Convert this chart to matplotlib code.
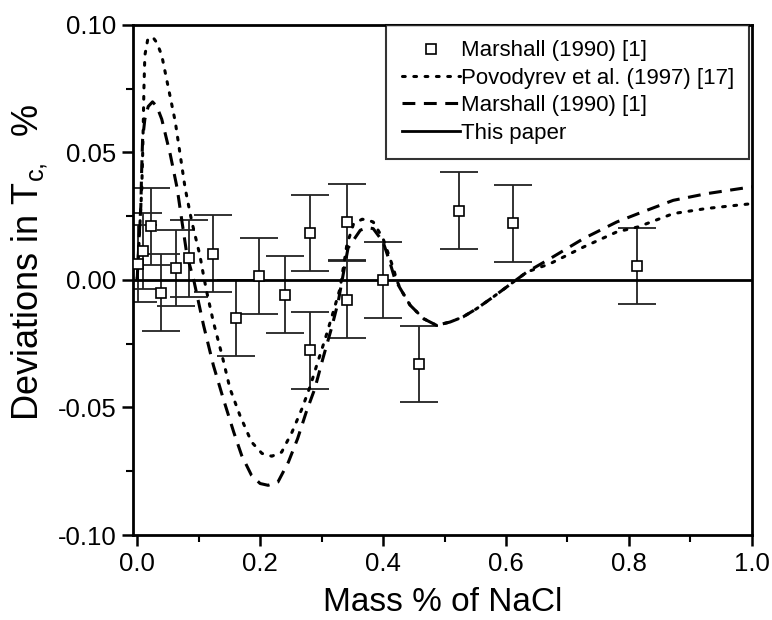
import matplotlib
matplotlib.use("Agg")
import matplotlib.pyplot as plt
from matplotlib.ticker import MultipleLocator, FormatStrFormatter

plt.rcParams['font.family'] = ['Liberation Sans', 'DejaVu Sans']
plt.rcParams['mathtext.default'] = 'regular'

# Marshall (1990) data points, error +-0.015
marsh_x = [0.002, 0.010, 0.023, 0.038, 0.063, 0.085, 0.124, 0.161, 0.198, 0.240,
           0.281, 0.281, 0.341, 0.341, 0.400, 0.459, 0.523, 0.611, 0.813]
marsh_y = [0.0064, 0.0114, 0.021, -0.005, 0.0046, 0.0085, 0.0103, -0.0149, 0.0016, -0.0058,
           0.0184, -0.0276, 0.0227, -0.0077, 0.0, -0.033, 0.0272, 0.0222, 0.0054]
marsh_err = [0.015] * len(marsh_x)

# Povodyrev et al. (1997) curve
pov_x = [0.0, 0.002, 0.0047, 0.0075, 0.0089, 0.010, 0.011, 0.0125, 0.017, 0.025,
         0.032, 0.040, 0.051, 0.062, 0.070, 0.078, 0.089, 0.102, 0.107, 0.113,
         0.124, 0.138, 0.151, 0.167, 0.186, 0.203, 0.219, 0.235, 0.252, 0.268,
         0.282, 0.292, 0.306, 0.319, 0.330, 0.336, 0.341, 0.352, 0.366, 0.376,
         0.384, 0.400, 0.417, 0.422, 0.428, 0.444, 0.466, 0.487, 0.509, 0.530,
         0.552, 0.579, 0.612, 0.634, 0.672, 0.726, 0.780, 0.815, 0.872, 0.926, 1.0]
pov_y = [0.0, 0.0098, 0.0227, 0.036, 0.049, 0.062, 0.075, 0.088, 0.094, 0.0953,
         0.093, 0.088, 0.075, 0.062, 0.049, 0.036, 0.0227, 0.0097, 0.003, -0.0045,
         -0.0165, -0.0295, -0.0426, -0.053, -0.0635, -0.068, -0.0691, -0.0675, -0.0596, -0.0505,
         -0.0413, -0.0335, -0.023, -0.0125, -0.0034, 0.0058, 0.0136, 0.022, 0.0238, 0.0234,
         0.0227, 0.0162, 0.0044, 0.0, -0.0034, -0.0099, -0.0152, -0.0178, -0.0165, -0.0145,
         -0.0113, -0.0067, -0.0008, 0.0031, 0.0064, 0.0129, 0.0188, 0.0208, 0.026, 0.028, 0.0299]

# Marshall (1990) curve
mc_x = [0.0, 0.003, 0.006, 0.0072, 0.0088, 0.0125, 0.018, 0.025, 0.032, 0.040,
        0.054, 0.065, 0.073, 0.081, 0.092, 0.108, 0.124, 0.140, 0.157, 0.170,
        0.186, 0.200, 0.213, 0.229, 0.246, 0.261, 0.275, 0.289, 0.302, 0.316,
        0.327, 0.335, 0.343, 0.363, 0.375, 0.384, 0.400, 0.411, 0.419, 0.428,
        0.444, 0.466, 0.487, 0.509, 0.530, 0.552, 0.579, 0.612, 0.634, 0.672,
        0.726, 0.780, 0.815, 0.872, 0.926, 1.0]
mc_y = [0.0, 0.016, 0.029, 0.042, 0.055, 0.063, 0.068, 0.0698, 0.068, 0.063,
        0.049, 0.036, 0.0227, 0.0097, 0.0, -0.0178, -0.0335, -0.0465, -0.0596, -0.0688,
        -0.0766, -0.0798, -0.0805, -0.0792, -0.0714, -0.0622, -0.0518, -0.0426, -0.0309, -0.019,
        -0.0086, 0.002, 0.0125, 0.0195, 0.0205, 0.0201, 0.0149, 0.007, 0.0005, -0.0034,
        -0.0099, -0.0152, -0.0178, -0.0165, -0.0145, -0.0113, -0.0067, -0.0008, 0.0031, 0.0084,
        0.0162, 0.0227, 0.026, 0.0312, 0.0338, 0.0365]

# This paper (zero deviation)
paper_x = [-0.01, 1.0]
paper_y = [0.0, 0.0]

fig = plt.figure(figsize=(7.72, 6.2), dpi=100)
ax = fig.add_axes([0.1725, 0.137, 0.8015, 0.823])

ax.errorbar(marsh_x, marsh_y, yerr=marsh_err, fmt='none', ecolor='#222222',
            elinewidth=1.3, capsize=13.5, capthick=1.3, zorder=2)
h_pts, = ax.plot(marsh_x, marsh_y, 's', ms=6.5, mfc='white', mec='black', mew=1.2,
                 zorder=4, label='Marshall (1990) [1]')
h_pov, = ax.plot(pov_x, pov_y, color='black', lw=2.2, dashes=(0.9, 2.8),
                 dash_capstyle='round', zorder=3, label='Povodyrev et al. (1997) [17]')
h_mc, = ax.plot(mc_x, mc_y, color='black', lw=2.2, dashes=(4.2, 2.8),
                zorder=3, label='Marshall (1990) [1]')
h_pap, = ax.plot(paper_x, paper_y, color='black', lw=2.0, zorder=3, label='This paper')

ax.set_xlim(-0.0065, 1.0)
ax.set_ylim(-0.1, 0.1)
ax.xaxis.set_major_locator(MultipleLocator(0.2))
ax.xaxis.set_minor_locator(MultipleLocator(0.1))
ax.yaxis.set_major_locator(MultipleLocator(0.05))
ax.yaxis.set_minor_locator(MultipleLocator(0.025))
ax.xaxis.set_major_formatter(FormatStrFormatter('%.1f'))
ax.yaxis.set_major_formatter(FormatStrFormatter('%.2f'))
ax.tick_params(which='major', direction='out', length=8, width=1.8, labelsize=18.5, pad=4)
ax.tick_params(which='minor', direction='out', length=5, width=1.5)
for s in ax.spines.values():
    s.set_linewidth(2.0)

ax.set_xlabel('Mass % of NaCl', fontsize=24, labelpad=8)
ax.set_ylabel('Deviations in T$_{c,}$  %', fontsize=26)
ax.yaxis.set_label_coords(-0.135, 0.535)

leg = ax.legend(handles=[h_pts, h_pov, h_mc, h_pap], loc='upper right',
                bbox_to_anchor=(0.996, 1.0), fontsize=16, frameon=True, fancybox=False,
                edgecolor='black', numpoints=1, handlelength=2.6, handletextpad=0.05,
                labelspacing=0.29, borderpad=0.7, borderaxespad=0)
leg.get_frame().set_linewidth(1.5)

fig.savefig('out.png', dpi=100)
